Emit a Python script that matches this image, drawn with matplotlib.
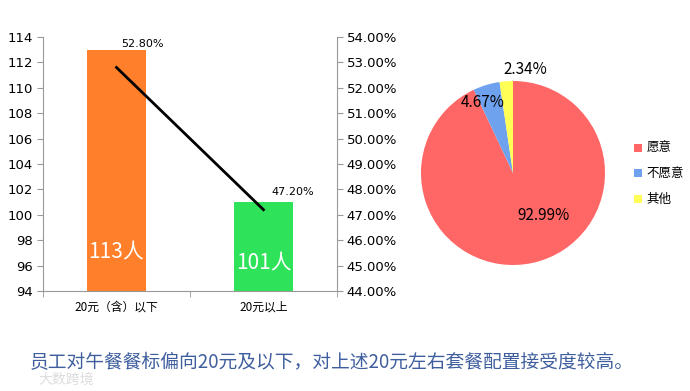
import matplotlib.pyplot as plt
from matplotlib.patches import Patch
from matplotlib.ticker import FuncFormatter

plt.rcParams['font.family'] = ['DejaVu Sans', 'Noto Sans CJK SC']

# bar + line data
categories = ['20元（含）以下', '20元以上']
counts = [113, 101]
shares = [0.528, 0.472]
bar_colors = ['#FF7F2A', '#2EE35A']

# pie data
pie_labels = ['愿意', '不愿意', '其他']
pie_values = [92.99, 4.67, 2.34]
pie_colors = ['#FF6666', '#6FA2EE', '#FFFF55']

footer = '员工对午餐餐标偏向20元及以下，对上述20元左右套餐配置接受度较高。'

fig = plt.figure(figsize=(6.9, 3.91), dpi=100)

# --- left: bars with share line ---
ax = fig.add_axes([43 / 690, 100 / 391, 294 / 690, 254 / 391])
x = list(range(len(categories)))
ax.bar(x, counts, width=0.4, color=bar_colors, zorder=2)
ax.set_xlim(-0.5, 1.5)
ax.set_ylim(94, 114)
ax.set_yticks(range(94, 115, 2))
ax.set_xticks(x)
ax.set_xticklabels(categories, fontsize=8.5, family=['Noto Sans CJK SC'])
ax.set_xticks([-0.5, 0.5, 1.5], minor=True)
ax.tick_params(axis='x', which='major', length=0, pad=7)
ax.tick_params(axis='x', which='minor', length=4, color='#999999', direction='out')
ax.tick_params(axis='y', labelsize=9.5, length=4, color='#999999', pad=3)
for s in ['top', 'right']:
    ax.spines[s].set_visible(False)
for s in ['left', 'bottom']:
    ax.spines[s].set_color('#999999')

inner_y = [97.0, 96.2]
for xi, c, yy in zip(x, counts, inner_y):
    ax.text(xi, yy, f'{c}人', ha='center', va='center', color='white',
            fontsize=15, family=['Noto Sans CJK SC'], fontweight='medium', zorder=3)

ax2 = ax.twinx()
ax2.set_ylim(0.44, 0.54)
ax2.set_yticks([0.44 + 0.01 * i for i in range(11)])
ax2.yaxis.set_major_formatter(FuncFormatter(lambda v, p: f'{v * 100:.2f}%'))
ax2.plot(x, shares, color='black', lw=2, zorder=4)
ax2.tick_params(axis='y', labelsize=9.5, length=4, color='#999999', pad=3)
for s in ['top', 'left', 'bottom']:
    ax2.spines[s].set_visible(False)
ax2.spines['right'].set_color('#999999')
label_offsets = [(19, 17), (21, 13)]
for xi, v, off in zip(x, shares, label_offsets):
    ax2.annotate(f'{v * 100:.2f}%', (xi, v), xytext=off, textcoords='offset points',
                 ha='center', va='center', fontsize=8)

# --- right: pie ---
pax = fig.add_axes([421 / 690, 126 / 391, 184 / 690, 184 / 391])
pax.pie(pie_values, colors=pie_colors, startangle=90, counterclock=False,
        wedgeprops=dict(linewidth=0))
pax.set_xlim(-1, 1)
pax.set_ylim(-1, 1)
pax.set_aspect('equal')
pie_text_pos = [(0.33, -0.46), (-0.33, 0.77), (0.13, 1.13)]
for v, (tx, ty) in zip(pie_values, pie_text_pos):
    pax.text(tx, ty, f'{v:.2f}%', ha='center', va='center', fontsize=11,
             family=['Noto Sans CJK SC'], fontweight='medium')

handles = [Patch(facecolor=c, edgecolor='none') for c in pie_colors]
fig.legend(handles, pie_labels, loc='center left', bbox_to_anchor=(634 / 690, 217 / 391),
           frameon=False, handlelength=0.6, handleheight=0.6, borderpad=0,
           borderaxespad=0, handletextpad=0.4, labelspacing=1.0,
           prop={'family': 'Noto Sans CJK SC', 'size': 9, 'weight': 'medium'})

# footer + watermark
fig.text(30 / 690, 1 - 363 / 391, footer, fontsize=13.5, color='#3F5E9E',
         va='center', ha='left', family=['Noto Sans CJK SC'], fontweight='medium')
fig.text(38 / 690, 1 - 380 / 391, '大数跨境', fontsize=10, color='#DDDDDD',
         va='center', ha='left', family=['Noto Sans CJK SC'])

fig.savefig('out.png', dpi=100)
